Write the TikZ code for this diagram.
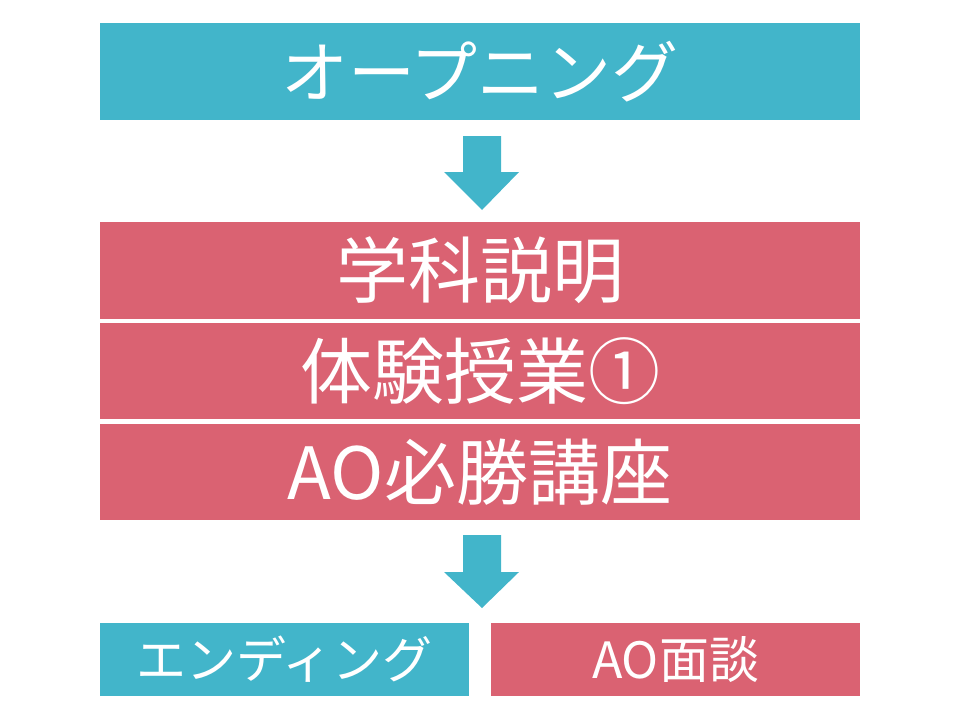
\documentclass[tikz,border=0pt]{standalone}
\usepackage{fontspec}
\setmainfont{Noto Sans CJK JP}
\usetikzlibrary{positioning}
\definecolor{tealbox}{HTML}{42B5CA}
\definecolor{rosebox}{HTML}{DA6272}
\begin{document}
\begin{tikzpicture}[x=1pt, y=-1pt,
    box/.style={rectangle, inner sep=0pt, text=white, minimum width=760pt},
    toptext/.style={font=\fontsize{67}{67}\selectfont},
    bigtext/.style={font=\fontsize{72}{72}\selectfont},
    smalltext/.style={font=\fontsize{50}{50}\selectfont},
    downarrow/.style={fill=tealbox}]
    \useasboundingbox (0,0) rectangle (960,720);

    \node[box, toptext, fill=tealbox, minimum height=97pt] (open) at (480,71.5) {オープニング};

    \fill[downarrow] (463,136) -- (501,136) -- (501,172) -- (519,172)
        -- (482,210) -- (444,172) -- (463,172) -- cycle;

    \node[box, bigtext, fill=rosebox, minimum height=97pt] (dept) at (480,270.5) {学科説明};
    \node[box, bigtext, fill=rosebox, minimum height=96pt] (trial) at (480,371) {体験授業①};
    \node[box, bigtext, fill=rosebox, minimum height=96pt] (course) at (480,472) {AO必勝講座};

    \fill[downarrow] (463,535) -- (501,535) -- (501,572) -- (519,572)
        -- (482,608) -- (444,572) -- (463,572) -- cycle;

    \node[box, smalltext, fill=tealbox, minimum width=369pt, minimum height=73pt] (ending) at (284.5,659.5) {エンディング};
    \node[box, smalltext, fill=rosebox, minimum width=369pt, minimum height=73pt] (interview) at (675.5,659.5) {AO面談};
\end{tikzpicture}
\end{document}
